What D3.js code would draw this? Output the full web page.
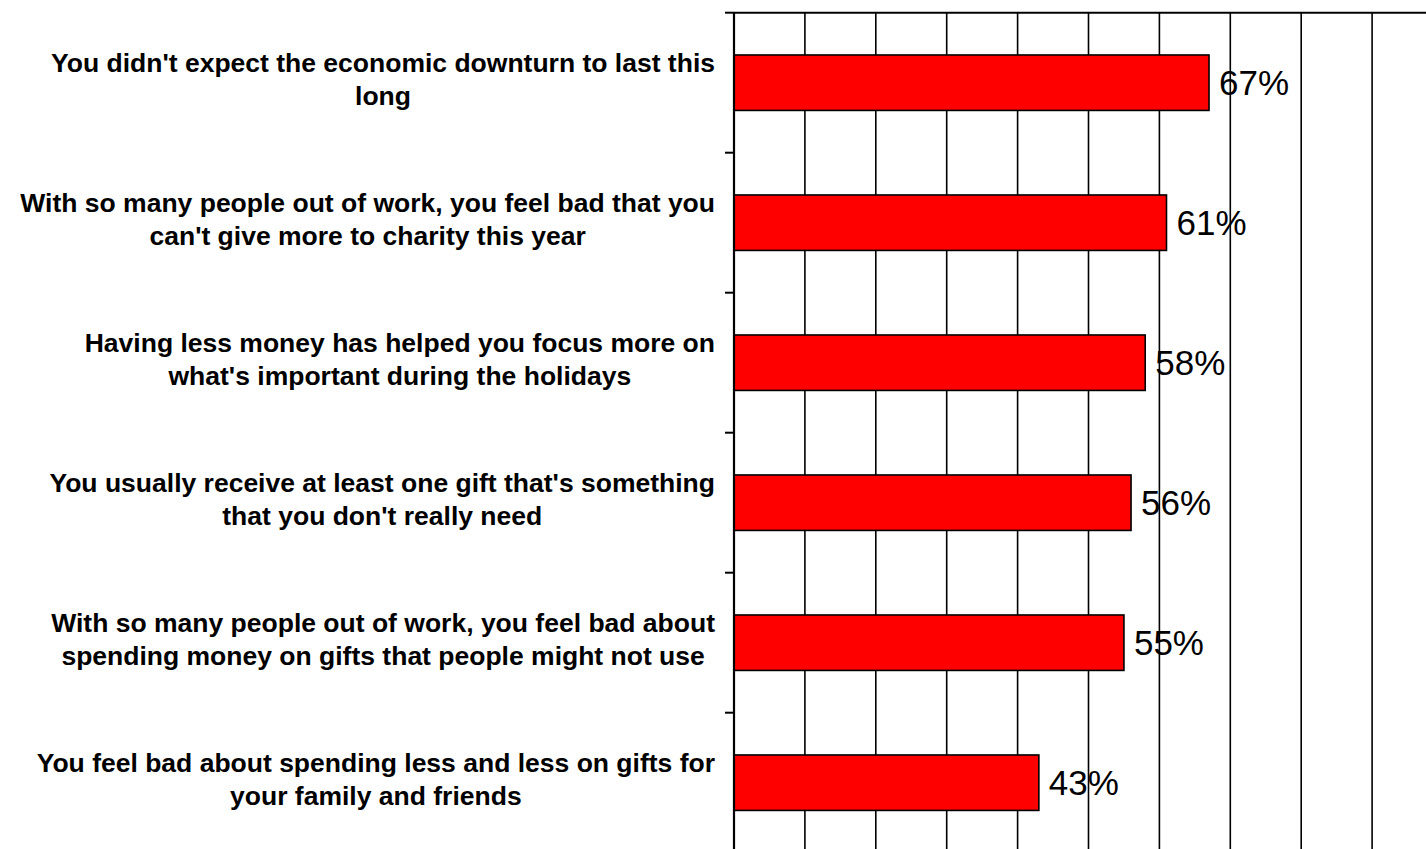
<!DOCTYPE html>
<html>
<head>
<meta charset="utf-8">
<script src="https://cdn.jsdelivr.net/npm/d3@7"></script>
<style>
  html, body { margin: 0; padding: 0; background: #fff; }
  svg { display: block; }
</style>
</head>
<body>
<svg id="chart" width="1426" height="849"></svg>
<script>
// Survey statements (each split into its two display lines) and share agreeing
const statements = [
  ["You didn't expect the economic downturn to last this", "long"],
  ["With so many people out of work, you feel bad that you", "can't give more to charity this year"],
  ["Having less money has helped you focus more on", "what's important during the holidays"],
  ["You usually receive at least one gift that's something", "that you don't really need"],
  ["With so many people out of work, you feel bad about", "spending money on gifts that people might not use"],
  ["You feel bad about spending less and less on gifts for", "your family and friends"]
];
const shares = [0.67, 0.61, 0.58, 0.56, 0.55, 0.43];
const gridValues = [0.1, 0.2, 0.3, 0.4, 0.5, 0.6, 0.7, 0.8, 0.9, 1.0];

const svg = d3.select("#chart");
const plot = { left: 734, top: 12.7, right: 1443, bottom: 852.7 };
const labelRight = 715;

const keys = statements.map((d, i) => i);
const y = d3.scaleBand().domain(keys).range([plot.top, plot.bottom]).paddingInner(0.604).paddingOuter(0.302);
const x = d3.scaleLinear().domain([0, 1]).range([plot.left, plot.right]);

// vertical gridlines
svg.append("g")
  .selectAll("line")
  .data(gridValues)
  .join("line")
  .attr("x1", d => x(d)).attr("x2", d => x(d))
  .attr("y1", plot.top).attr("y2", plot.bottom)
  .attr("stroke", "#000").attr("stroke-width", 1.6);

// top border of plot area
svg.append("line")
  .attr("x1", plot.left).attr("x2", plot.right)
  .attr("y1", plot.top).attr("y2", plot.top)
  .attr("stroke", "#000").attr("stroke-width", 2);

// bars
svg.append("g")
  .selectAll("rect")
  .data(shares)
  .join("rect")
  .attr("x", x(0))
  .attr("y", (d, i) => y(i))
  .attr("width", d => x(d) - x(0))
  .attr("height", y.bandwidth())
  .attr("fill", "#ff0000")
  .attr("stroke", "#000")
  .attr("stroke-width", 1.6);

// category axis with ticks between bands
const bandEdges = d3.range(keys.length + 1).map(i => plot.top + i * (plot.bottom - plot.top) / keys.length);
const axisG = svg.append("g");
axisG.append("line")
  .attr("x1", plot.left).attr("x2", plot.left)
  .attr("y1", plot.top).attr("y2", plot.bottom)
  .attr("stroke", "#000").attr("stroke-width", 2.2);
axisG.selectAll("line.tick")
  .data(bandEdges)
  .join("line")
  .attr("class", "tick")
  .attr("x1", plot.left - 9).attr("x2", plot.left)
  .attr("y1", d => d).attr("y2", d => d)
  .attr("stroke", "#000").attr("stroke-width", 2);

// category labels: centred lines, block pushed against the axis
const labels = svg.append("g")
  .attr("font-family", "'Liberation Sans', Arial, sans-serif")
  .attr("font-weight", "bold")
  .attr("font-size", 26.5)
  .attr("fill", "#000")
  .attr("text-anchor", "middle");
labels.selectAll("text")
  .data(statements)
  .join("text")
  .each(function (lines, i) {
    const t = d3.select(this);
    const cy = y(i) + y.bandwidth() / 2;
    const spans = lines.map((line, j) =>
      t.append("tspan")
        .attr("y", cy + (j - (lines.length - 1) / 2) * 33 + 6)
        .text(line));
    const maxW = d3.max(spans, s => s.node().getComputedTextLength());
    spans.forEach(s => s.attr("x", labelRight - maxW / 2));
  });

// value labels
svg.append("g")
  .attr("font-family", "'Liberation Sans', Arial, sans-serif")
  .attr("font-size", 35)
  .attr("fill", "#000")
  .selectAll("text")
  .data(shares)
  .join("text")
  .attr("x", d => x(d) + 10)
  .attr("y", (d, i) => y(i) + y.bandwidth() / 2 + 12)
  .text(d => d3.format(".0%")(d));
</script>
</body>
</html>
